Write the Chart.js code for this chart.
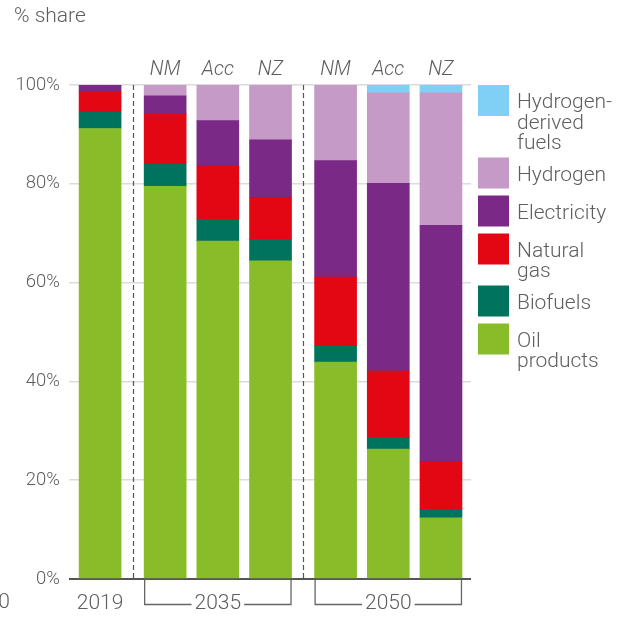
<!DOCTYPE html>
<html>
<head>
<meta charset="utf-8">
<script src="https://cdn.jsdelivr.net/npm/chart.js@4/dist/chart.umd.min.js"></script>
<style>
  body { margin: 0; background: #fff; }
  #wrap { position: relative; width: 619px; height: 617px; }
</style>
</head>
<body>
<div id="wrap"><canvas id="fuelChart"></canvas></div>
<script>
// x positions of the bars (year groups are spaced a little further apart)
const barPos = [0, 1.235, 2.235, 3.235, 4.47, 5.47, 6.47];
const scenarios = ['', 'NM', 'Acc', 'NZ', 'NM', 'Acc', 'NZ'];
const yearLabels = ['2019', '2035', '2050'];
const yearFirstBar = [0, 1, 4];
const yearLastBar = [0, 3, 6];

// % share of each fuel, bottom to top of the stack
const oilProducts   = [91.2, 79.5, 68.4, 64.4, 43.9, 26.3, 12.4];
const biofuels      = [3.3, 4.5, 4.4, 4.3, 3.2, 2.3, 1.7];
const naturalGas    = [4.0, 10.1, 10.8, 8.5, 14.0, 13.5, 9.6];
const electricity   = [1.5, 3.7, 9.2, 11.7, 23.6, 38.0, 47.9];
const hydrogen      = [0, 2.2, 7.2, 11.1, 15.3, 18.3, 26.8];
const hydrogenFuels = [0, 0, 0, 0, 0, 1.6, 1.6];

const fuelNames = [['Oil', 'products'], ['Biofuels'], ['Natural', 'gas'], ['Electricity'], ['Hydrogen'], ['Hydrogen-', 'derived', 'fuels']];
const fuelColors = ['#88bc28', '#00735e', '#e30613', '#7a2a86', '#c59ac7', '#80d0f5'];
const fuelValues = [oilProducts, biofuels, naturalGas, electricity, hydrogen, hydrogenFuels];

const FONT = 'Roboto, "Liberation Sans", sans-serif';
const TEXT = '#5e5e5e';

const datasets = fuelValues.map((vals, i) => ({
  label: fuelNames[i].join(' ').replace('- ', '-'),
  data: vals.map((v, j) => ({ x: barPos[j], y: v })),
  backgroundColor: fuelColors[i],
  borderWidth: 0,
  barThickness: 42
}));

const extras = {
  id: 'extras',
  afterDraw(chart) {
    const ctx = chart.ctx;
    const area = chart.chartArea;
    const xs = chart.scales.x;
    const bars = chart.getDatasetMeta(0).data;
    ctx.save();

    // axis title
    ctx.fillStyle = TEXT;
    ctx.font = '300 21px ' + FONT;
    ctx.textBaseline = 'middle';
    ctx.textAlign = 'left';
    ctx.fillText('% share', 14, 17);
    ctx.textAlign = 'right';
    ctx.fillText('0', 10, 603);

    // dashed dividers between the year groups
    ctx.strokeStyle = '#555';
    ctx.lineWidth = 1.2;
    ctx.setLineDash([5, 3]);
    [(barPos[0] + barPos[1]) / 2, (barPos[3] + barPos[4]) / 2].forEach(v => {
      const x = Math.round(xs.getPixelForValue(v)) + 0.5;
      ctx.beginPath();
      ctx.moveTo(x, area.top);
      ctx.lineTo(x, area.bottom);
      ctx.stroke();
    });
    ctx.setLineDash([]);

    // scenario names above bars
    ctx.font = 'italic 300 20px ' + FONT;
    ctx.textAlign = 'center';
    scenarios.forEach((s, i) => {
      if (s) ctx.fillText(s, bars[i].x, 70);
    });

    // year labels with brackets
    ctx.font = '300 21px ' + FONT;
    ctx.strokeStyle = '#666';
    ctx.lineWidth = 1.3;
    yearLabels.forEach((yr, i) => {
      const a = bars[yearFirstBar[i]], b = bars[yearLastBar[i]];
      const left = a.x - a.width / 2, right = b.x + b.width / 2;
      const cx = (left + right) / 2;
      ctx.fillText(yr, cx, 604);
      if (yearFirstBar[i] === yearLastBar[i]) return;
      const half = ctx.measureText(yr).width / 2 + 3;
      const yb = 604.5;
      ctx.beginPath();
      ctx.moveTo(left + 0.5, area.bottom + 1);
      ctx.lineTo(left + 0.5, yb);
      ctx.lineTo(cx - half, yb);
      ctx.moveTo(cx + half, yb);
      ctx.lineTo(right - 0.5, yb);
      ctx.lineTo(right - 0.5, area.bottom + 1);
      ctx.stroke();
    });

    // legend, top item is the last dataset
    ctx.font = '300 21px ' + FONT;
    ctx.textAlign = 'left';
    ctx.textBaseline = 'alphabetic';
    let top = 85;
    for (let i = fuelNames.length - 1; i >= 0; i--) {
      const lines = fuelNames[i];
      ctx.fillStyle = fuelColors[i];
      ctx.fillRect(478, top, 31, 31);
      ctx.fillStyle = TEXT;
      lines.forEach((t, k) => ctx.fillText(t, 517, top + 23 + k * 20.7));
      top += Math.max(31, lines.length * 20.5 + 4) + 7;
    }
    ctx.restore();
  }
};

new Chart(document.getElementById('fuelChart'), {
  type: 'bar',
  data: { datasets: datasets },
  options: {
    responsive: true,
    maintainAspectRatio: false,
    animation: false,
    layout: { padding: { top: 85, right: 148, bottom: 38, left: 0 } },
    plugins: { legend: { display: false }, tooltip: { enabled: false } },
    scales: {
      x: { type: 'linear', min: -0.59, max: 7.04, offset: false, stacked: true, display: false },
      y: {
        stacked: true,
        min: 0,
        max: 100,
        border: { display: false },
        afterFit(scale) { scale.width = 69; },
        ticks: {
          stepSize: 20,
          padding: 9,
          color: TEXT,
          font: { family: FONT, size: 18.5, weight: '300' },
          callback: v => v + '%'
        },
        grid: {
          drawTicks: false,
          color: ctx => ctx.tick && ctx.tick.value === 0 ? '#555' : '#dcdcdc',
          lineWidth: ctx => ctx.tick && ctx.tick.value === 0 ? 2 : 1.5
        }
      }
    }
  },
  plugins: [extras]
});
</script>
</body>
</html>
